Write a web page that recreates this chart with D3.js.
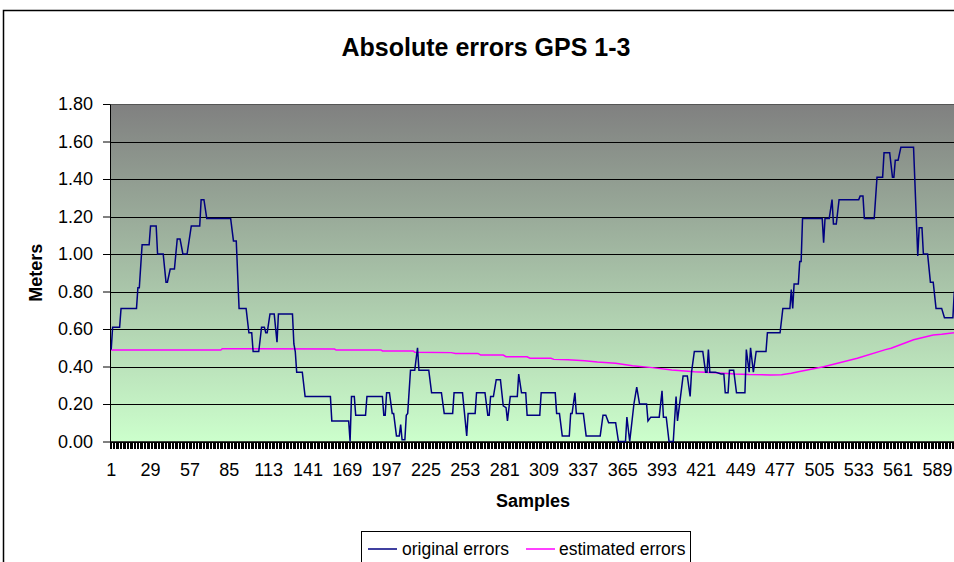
<!DOCTYPE html>
<html>
<head>
<meta charset="UTF-8">
<title>absolute_errors_gps</title>

<style type="text/css">
	body {
		margin: 0;
		background: #fff;
	}

	text {
		font-family: "Liberation Sans", Arial, sans-serif;
		fill: #000;
	}

	.axis text {
		font-size: 18px;
	}

	.axis path, .axis line {
		stroke: #000;
	}

	.title {
		font-size: 25px;
		font-weight: bold;
		text-anchor: middle;
	}

	.axis-title {
		font-size: 18px;
		font-weight: bold;
		text-anchor: middle;
	}

	.legend text {
		font-size: 17.5px;
	}
</style>

<script type="text/javascript" src="https://cdn.jsdelivr.net/npm/d3@7/dist/d3.min.js"></script>
</head>
<body>

<div id="div_main"></div>

<script type="text/javascript">

	// categories: sample numbers 1..601
	var samples = d3.range(1, 602);
	var xTickLabels = [1, 29, 57, 85, 113, 141, 169, 197, 225, 253, 281, 309, 337, 365, 393, 421, 449, 477, 505, 533, 561, 589];
	var yTicks = [0, 0.2, 0.4, 0.6, 0.8, 1.0, 1.2, 1.4, 1.6, 1.8];

	// original errors, read at the samples where the value changes
	var origSample = [1, 2, 7, 8, 19, 20, 21, 23, 28, 29, 33, 34, 38, 40, 41, 43, 46, 48, 50, 52, 55, 58, 64, 65, 67, 69, 86, 88, 90, 92,
		97, 99, 101, 102, 106, 108, 110, 111, 112, 114, 117, 119, 120, 130, 131, 132, 133, 137, 139, 157, 158, 170, 171, 172, 174, 175, 182, 183, 194, 195,
		196, 197, 199, 201, 202, 204, 206, 207, 208, 210, 211, 212, 214, 217, 219, 220, 227, 229, 236, 238, 244, 245, 251, 254, 255, 260, 261, 267, 269, 270,
		271, 273, 275, 278, 280, 282, 283, 285, 290, 291, 293, 296, 297, 306, 307, 317, 318, 320, 322, 327, 328, 329, 331, 332, 337, 339, 349, 351, 353, 355,
		360, 362, 367, 368, 370, 373, 375, 377, 382, 383, 385, 391, 393, 394, 396, 398, 401, 403, 404, 408, 411, 413, 414, 416, 422, 424, 425, 426, 427, 431,
		435, 437, 438, 440, 441, 444, 446, 452, 453, 455, 456, 458, 460, 467, 468, 477, 479, 484, 485, 486, 487, 490, 491, 492, 493, 507, 508, 509, 512, 514,
		515, 517, 519, 533, 534, 536, 537, 544, 546, 550, 551, 555, 557, 558, 559, 561, 563, 572, 575, 576, 578, 579, 582, 584, 586, 588, 592, 594, 600, 601];
	var origValue = [0.49, 0.61, 0.61, 0.71, 0.71, 0.82, 0.82, 1.05, 1.05, 1.15, 1.15, 1.00, 1.00, 0.85, 0.85, 0.92, 0.92, 1.08, 1.08, 1.00, 1.00, 1.15, 1.15, 1.29, 1.29, 1.19, 1.19, 1.07, 1.07, 0.71,
		0.71, 0.58, 0.58, 0.48, 0.48, 0.61, 0.61, 0.58, 0.58, 0.68, 0.68, 0.53, 0.68, 0.68, 0.52, 0.48, 0.37, 0.37, 0.24, 0.24, 0.11, 0.11, 0.00, 0.24, 0.24, 0.14, 0.14, 0.24, 0.24, 0.14,
		0.14, 0.26, 0.26, 0.15, 0.15, 0.03, 0.03, 0.09, 0.01, 0.01, 0.14, 0.15, 0.38, 0.38, 0.50, 0.38, 0.38, 0.26, 0.26, 0.15, 0.15, 0.26, 0.26, 0.03, 0.15, 0.15, 0.26, 0.26, 0.14, 0.14,
		0.24, 0.24, 0.33, 0.33, 0.19, 0.18, 0.11, 0.24, 0.24, 0.36, 0.26, 0.26, 0.14, 0.14, 0.26, 0.26, 0.15, 0.15, 0.03, 0.03, 0.15, 0.15, 0.26, 0.15, 0.15, 0.03, 0.03, 0.14, 0.14, 0.10,
		0.10, 0.00, 0.00, 0.13, 0.00, 0.20, 0.29, 0.20, 0.20, 0.11, 0.13, 0.13, 0.27, 0.13, 0.13, 0.00, 0.00, 0.24, 0.11, 0.35, 0.35, 0.24, 0.37, 0.48, 0.48, 0.37, 0.37, 0.49, 0.37, 0.37,
		0.36, 0.36, 0.26, 0.26, 0.38, 0.38, 0.26, 0.26, 0.49, 0.37, 0.50, 0.37, 0.48, 0.48, 0.58, 0.58, 0.71, 0.71, 0.81, 0.71, 0.84, 0.84, 0.96, 0.96, 1.19, 1.19, 1.06, 1.19, 1.19, 1.29,
		1.16, 1.16, 1.29, 1.29, 1.31, 1.31, 1.19, 1.19, 1.41, 1.41, 1.54, 1.54, 1.41, 1.41, 1.50, 1.50, 1.57, 1.57, 0.99, 1.14, 1.14, 1.00, 1.00, 0.85, 0.85, 0.71, 0.71, 0.66, 0.66, 0.80];

	// estimated errors
	var estSample = [1, 79, 80, 160, 161, 193, 194, 216, 217, 243, 246, 262, 264, 280, 282, 297, 299, 314, 316, 326, 338, 347, 360, 372, 386, 400, 416, 431, 445, 455,
		470, 478, 485, 490, 508, 532, 552, 556, 572, 586, 592, 601];
	var estValue = [0.488, 0.488, 0.495, 0.493, 0.488, 0.488, 0.483, 0.483, 0.476, 0.474, 0.470, 0.470, 0.461, 0.461, 0.452, 0.452, 0.444, 0.444, 0.438, 0.436, 0.431, 0.424, 0.417, 0.404, 0.394, 0.381, 0.372, 0.367, 0.360, 0.357,
		0.355, 0.356, 0.364, 0.372, 0.399, 0.444, 0.490, 0.497, 0.543, 0.568, 0.572, 0.580];

	function draw(svg_w, svg_h, id_svg_main) {

		var left = 110, right = 955, top = 104, bottom = 441.5;

		var scaleX = d3.scaleBand()
			.domain(samples)
			.range([left + 0.5, right]);

		var scaleY = d3.scaleLinear()
			.domain([0, 1.8])
			.range([bottom, top]);

		var svg = d3.select(id_svg_main)
			.append("svg")
				.attr("width", svg_w)
				.attr("height", svg_h);

		// plot background gradient (gray -> light green)
		var grad = svg.append("defs")
			.append("linearGradient")
				.attr("id", "bg")
				.attr("x1", 0).attr("y1", 0)
				.attr("x2", 0).attr("y2", 1);
		grad.append("stop").attr("offset", "0%").attr("stop-color", "#808080");
		grad.append("stop").attr("offset", "100%").attr("stop-color", "#ccffcc");

		// chart frame
		svg.append("rect")
			.attr("x", 3.5).attr("y", 10.5)
			.attr("width", 1000).attr("height", 600)
			.attr("fill", "none")
			.attr("stroke", "#000")
			.attr("stroke-width", 1.5);

		svg.append("rect")
			.attr("x", left).attr("y", top)
			.attr("width", right - left).attr("height", bottom - top)
			.attr("fill", "url(#bg)");

		// gridlines
		svg.selectAll("line.grid")
			.data(yTicks)
			.enter()
			.append("line")
				.attr("class", "grid")
				.attr("x1", left).attr("x2", right)
				.attr("y1", function (d) { return Math.round(scaleY(d)) + 0.5; })
				.attr("y2", function (d) { return Math.round(scaleY(d)) + 0.5; })
				.attr("stroke", function (d) { return d == 1.8 ? "#555" : "#000"; })
				.attr("stroke-width", 1);

		// category tick marks
		svg.selectAll("line.ctick")
			.data(samples)
			.enter()
			.append("line")
				.attr("class", "ctick")
				.attr("x1", function (d) { return scaleX(d); })
				.attr("x2", function (d) { return scaleX(d); })
				.attr("y1", bottom)
				.attr("y2", bottom + 7)
				.attr("stroke", "#000")
				.attr("shape-rendering", "crispEdges");

		// x axis labels
		var axisX = d3.axisBottom(scaleX)
			.tickValues(xTickLabels)
			.tickSize(0)
			.tickPadding(22);

		svg.append("g")
			.attr("class", "x axis")
			.attr("transform", "translate(0," + bottom + ")")
			.call(axisX)
			.call(function (g) { g.select(".domain").attr("stroke-width", 1.5); });

		// y axis
		var axisY = d3.axisLeft(scaleY)
			.tickValues(yTicks)
			.tickFormat(d3.format(".2f"))
			.tickSizeInner(7)
			.tickSizeOuter(0)
			.tickPadding(10);

		svg.append("g")
			.attr("class", "y axis")
			.attr("transform", "translate(" + left + ",0)")
			.call(axisY);

		// series
		var line = d3.line()
			.x(function (d) { return scaleX(d[0]) + scaleX.bandwidth() / 2; })
			.y(function (d) { return scaleY(d[1]); });

		var orig = origSample.map(function (s, i) { return [s, origValue[i]]; });
		var est = estSample.map(function (s, i) { return [s, estValue[i]]; });

		svg.append("path")
			.datum(est)
			.attr("d", line)
			.attr("fill", "none")
			.attr("stroke", "#ff00ff")
			.attr("stroke-width", 1.5);

		svg.append("path")
			.datum(orig)
			.attr("d", line)
			.attr("fill", "none")
			.attr("stroke", "#000080")
			.attr("stroke-width", 1.5);

		// titles
		svg.append("text")
			.attr("class", "title")
			.attr("x", 486).attr("y", 56)
			.text("Absolute errors GPS 1-3");

		svg.append("text")
			.attr("class", "axis-title")
			.attr("x", 533).attr("y", 507)
			.text("Samples");

		svg.append("text")
			.attr("class", "axis-title")
			.attr("transform", "translate(42," + ((top + bottom) / 2) + ") rotate(-90)")
			.text("Meters");

		// legend
		var legend = svg.append("g").attr("class", "legend");

		legend.append("rect")
			.attr("x", 361.5).attr("y", 531.5)
			.attr("width", 329).attr("height", 40)
			.attr("fill", "#fff")
			.attr("stroke", "#000");

		var items = [["original errors", "#000080", 368, 402], ["estimated errors", "#ff00ff", 526, 559]];

		items.forEach(function (it) {
			legend.append("line")
				.attr("x1", it[2]).attr("x2", it[2] + 29)
				.attr("y1", 549).attr("y2", 549)
				.attr("stroke", it[1])
				.attr("stroke-width", 1.5);
			legend.append("text")
				.attr("x", it[3]).attr("y", 555)
				.text(it[0]);
		});
	}

	draw(954, 562, "#div_main");

</script>

</body>
</html>
